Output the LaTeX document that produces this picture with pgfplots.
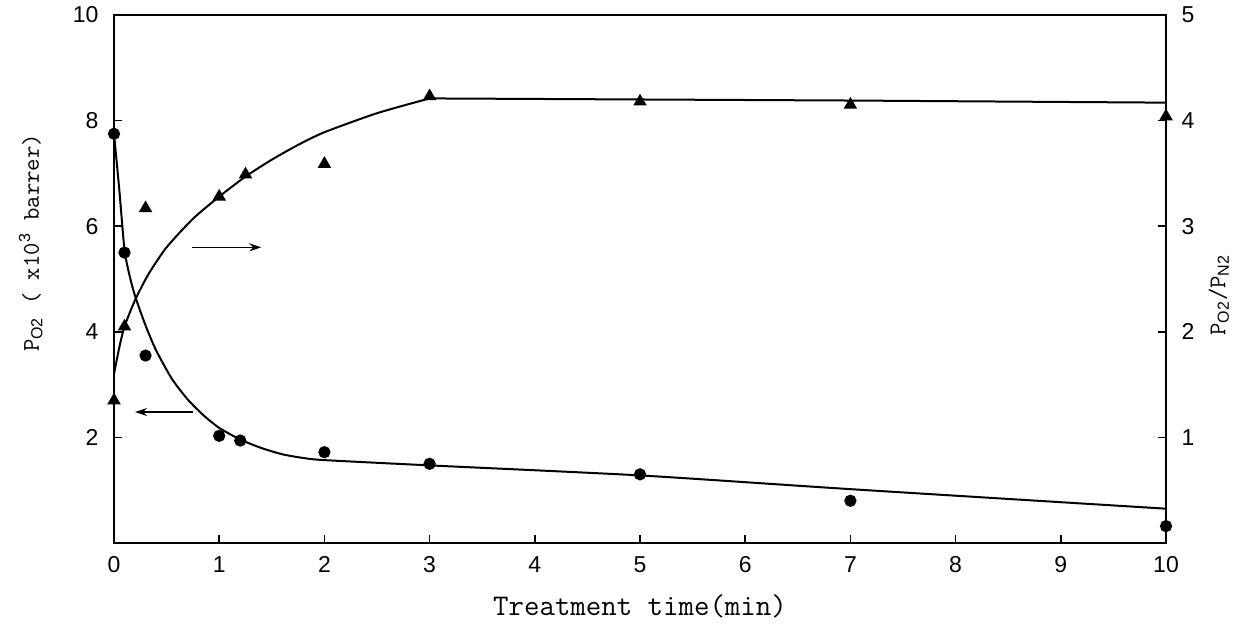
\documentclass[border=0pt]{standalone}
\usepackage{pgfplots}
\pgfplotsset{compat=1.18}
\usepackage{fontspec}
\setsansfont{Liberation Sans}
\usetikzlibrary{arrows.meta}
\begin{document}
\begin{tikzpicture}
\useasboundingbox (-57pt,-44.5pt) rectangle (572pt,271.5pt);
\pgfplotsset{
  every axis/.append style={
    scale only axis, width=526pt, height=264pt,
    xmin=0, xmax=10,
    line width=0.9pt,
    tick align=inside,
    major tick length=4pt,
    every tick/.style={line width=0.8pt, black},
    tick label style={font=\sffamily\fontsize{11.5}{13}\selectfont},
    /pgf/number format/assume math mode=true,
  }
}
\begin{axis}[
  ymin=0, ymax=10,
  xtick={0,1,...,10},
  ytick={2,4,6,8,10},
  xtick pos=bottom, ytick pos=left,
  xticklabel style={yshift=-3pt},
  yticklabel style={xshift=-4pt},
  axis line style={line width=0.9pt},
  xlabel={\ttfamily\fontsize{15}{17}\selectfont Treatment time(min)},
  xlabel style={yshift=-4pt},
  ylabel={\ttfamily\fontsize{12}{14}\selectfont P\textsubscript{\sffamily O2} ( x10\textsuperscript{\sffamily 3} barrer)},
  ylabel style={yshift=8pt, xshift=18pt},
]
\addplot[only marks, mark=*, mark size=2.6pt, black] coordinates {
(0,7.75) (0.1,5.5) (0.3,3.55) (1,2.03) (1.2,1.94) (2,1.72) (3,1.5) (5,1.3) (7,0.8) (10,0.32)};
\addplot[black, line width=1pt, smooth, tension=0.4] coordinates {
(0,7.75) (0.05,6.7) (0.1,5.55) (0.15,5.05) (0.2,4.68) (0.3,4.12) (0.4,3.65) (0.55,3.11) (0.7,2.72) (0.85,2.42) (1,2.18) (1.2,1.96) (1.4,1.8) (1.6,1.68) (1.8,1.61) (2,1.57) (3,1.47) (5,1.28) (7,1.02) (10,0.65)};
\draw[-{Stealth[length=6pt,width=4pt]}, line width=0.8pt] (axis cs:0.74,5.6) -- (axis cs:1.4,5.6);
\draw[-{Stealth[length=6pt,width=4pt]}, line width=0.8pt] (axis cs:0.75,2.48) -- (axis cs:0.2,2.48);
\end{axis}
\begin{axis}[
  ymin=0, ymax=5,
  axis y line*=right,
  axis x line=none,
  ytick={1,2,3,4,5},
  yticklabel style={xshift=4pt},
  ylabel={\ttfamily\fontsize{12}{14}\selectfont P\textsubscript{\sffamily O2}/P\textsubscript{\sffamily N2}},
  ylabel style={yshift=0pt, xshift=-8pt},
]
\addplot[only marks, mark=triangle*, mark size=3pt, black] coordinates {
(0,1.35) (0.1,2.05) (0.3,3.17) (1,3.28) (1.25,3.49) (2,3.59) (3,4.23) (5,4.18) (7,4.15) (10,4.04)};
\addplot[black, line width=1pt, smooth, tension=0.4] coordinates {
(0,1.6) (0.05,1.85) (0.1,2.05) (0.2,2.3) (0.33,2.55) (0.5,2.8) (0.75,3.07) (1,3.28) (1.25,3.47) (1.5,3.63) (1.75,3.77) (2,3.89) (2.5,4.07) (3,4.21)};
\addplot[black, line width=1pt] coordinates {(3,4.21) (5,4.2) (7,4.19) (10,4.17)};
\end{axis}
\end{tikzpicture}
\end{document}
